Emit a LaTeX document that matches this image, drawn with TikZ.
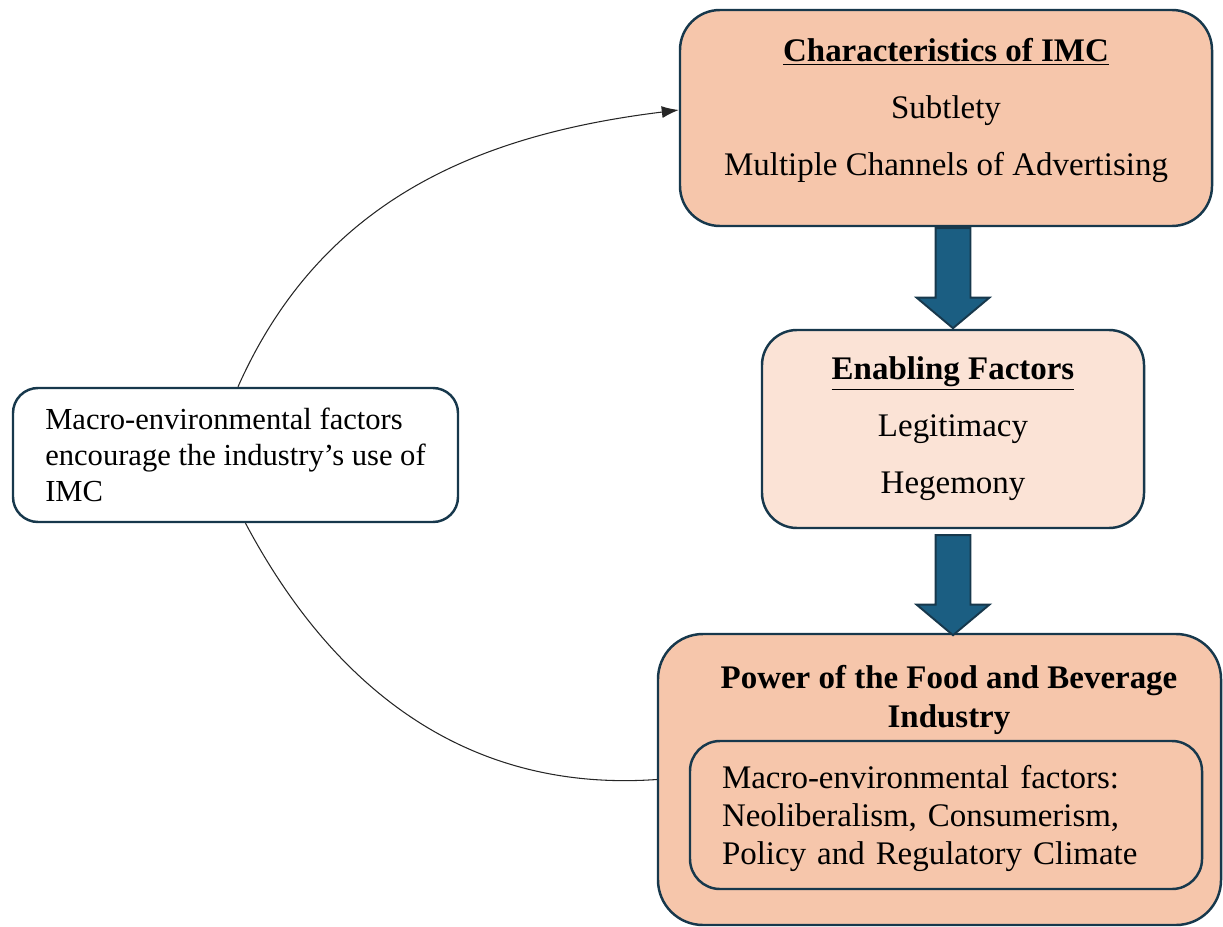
\documentclass[tikz,border=0pt]{standalone}
\usepackage{fontspec}
\setmainfont{Liberation Serif}
\usetikzlibrary{shapes.arrows,arrows.meta}

\definecolor{peach}{HTML}{F6C6AB}
\definecolor{lightpeach}{HTML}{FBE3D6}
\definecolor{navy}{HTML}{17384C}
\definecolor{steel}{HTML}{1B5E82}

\begin{document}
\begin{tikzpicture}[
    box/.style={draw=navy,line width=1.4pt,font=\fontsize{18.75}{21.5}\selectfont},
    txt/.style={font=\fontsize{18.75}{21.5}\selectfont,align=center},
    bigarrow/.style={single arrow,draw=navy,fill=steel,line width=1.1pt,rotate=-90,
      inner xsep=0pt,inner ysep=0.33cm,text height=0pt,text depth=0pt,
      minimum width=1.42cm,minimum height=2cm,single arrow head extend=0.38cm,
      single arrow tip angle=100,anchor=tail},
    curve/.style={draw=black!85,line width=0.6pt}
  ]
    \useasboundingbox (0,0) rectangle (24.46,-18.54);
    \node[box,fill=peach,rounded corners=0.8cm,minimum width=10.64cm,minimum height=4.32cm]
      (char) at (18.92,-2.36) {};
    \node[txt] (chartxt) at ([yshift=1.5mm]char.center)
      {\underline{\textbf{Characteristics of IMC}}\\[11pt] Subtlety\\[11pt] Multiple Channels of Advertising};
    \node[box,fill=lightpeach,rounded corners=0.7cm,align=center,minimum width=7.64cm,minimum height=3.96cm]
      (enab) at (19.06,-8.58) {\underline{\textbf{Enabling Factors}}\\[11pt] Legitimacy\\[11pt] Hegemony};
    \node[box,fill=white,rounded corners=0.5cm,align=left,minimum width=8.9cm,minimum height=2.68cm,
      font=\fontsize{17.4}{20.6}\selectfont]
      (lft) at (4.71,-9.1) {Macro-environmental factors\\encourage the industry's use of\\IMC};
    \node[box,fill=peach,rounded corners=0.9cm,minimum width=11.26cm,minimum height=5.82cm]
      (pow) at (18.79,-15.59) {};
    \node[txt,font=\fontsize{18.75}{22}\selectfont\bfseries]
      (powtitle) at (18.98,-14.0) {Power of the Food and Beverage\\Industry};
    \node[box,rounded corners=0.6cm,minimum width=10.24cm,minimum height=2.96cm]
      (mef) at (18.92,-16.3) {};
    \node[txt,align=left,text width=8.96cm] (meftxt) at ([yshift=-0.7mm]mef.center)
      {Macro-environmental factors:\\Neoliberalism, Consumerism,\\Policy and Regulatory Climate};
    % block arrows down the right column
    \node[bigarrow] (arr1) at (char.south -| enab.north) {};
    \node[bigarrow] (arr2) at ([yshift=-1mm]enab.south) {};
    % feedback loop round the left box
    \draw[curve,-{Latex[length=3.4mm,width=2.4mm]}] ([xshift=0.5mm]lft.north) to[out=66,in=187] ([yshift=1.6mm]char.west);
    \draw[curve] ([xshift=2mm]lft.south) to[out=-62,in=184] (pow.west);
\end{tikzpicture}
\end{document}
